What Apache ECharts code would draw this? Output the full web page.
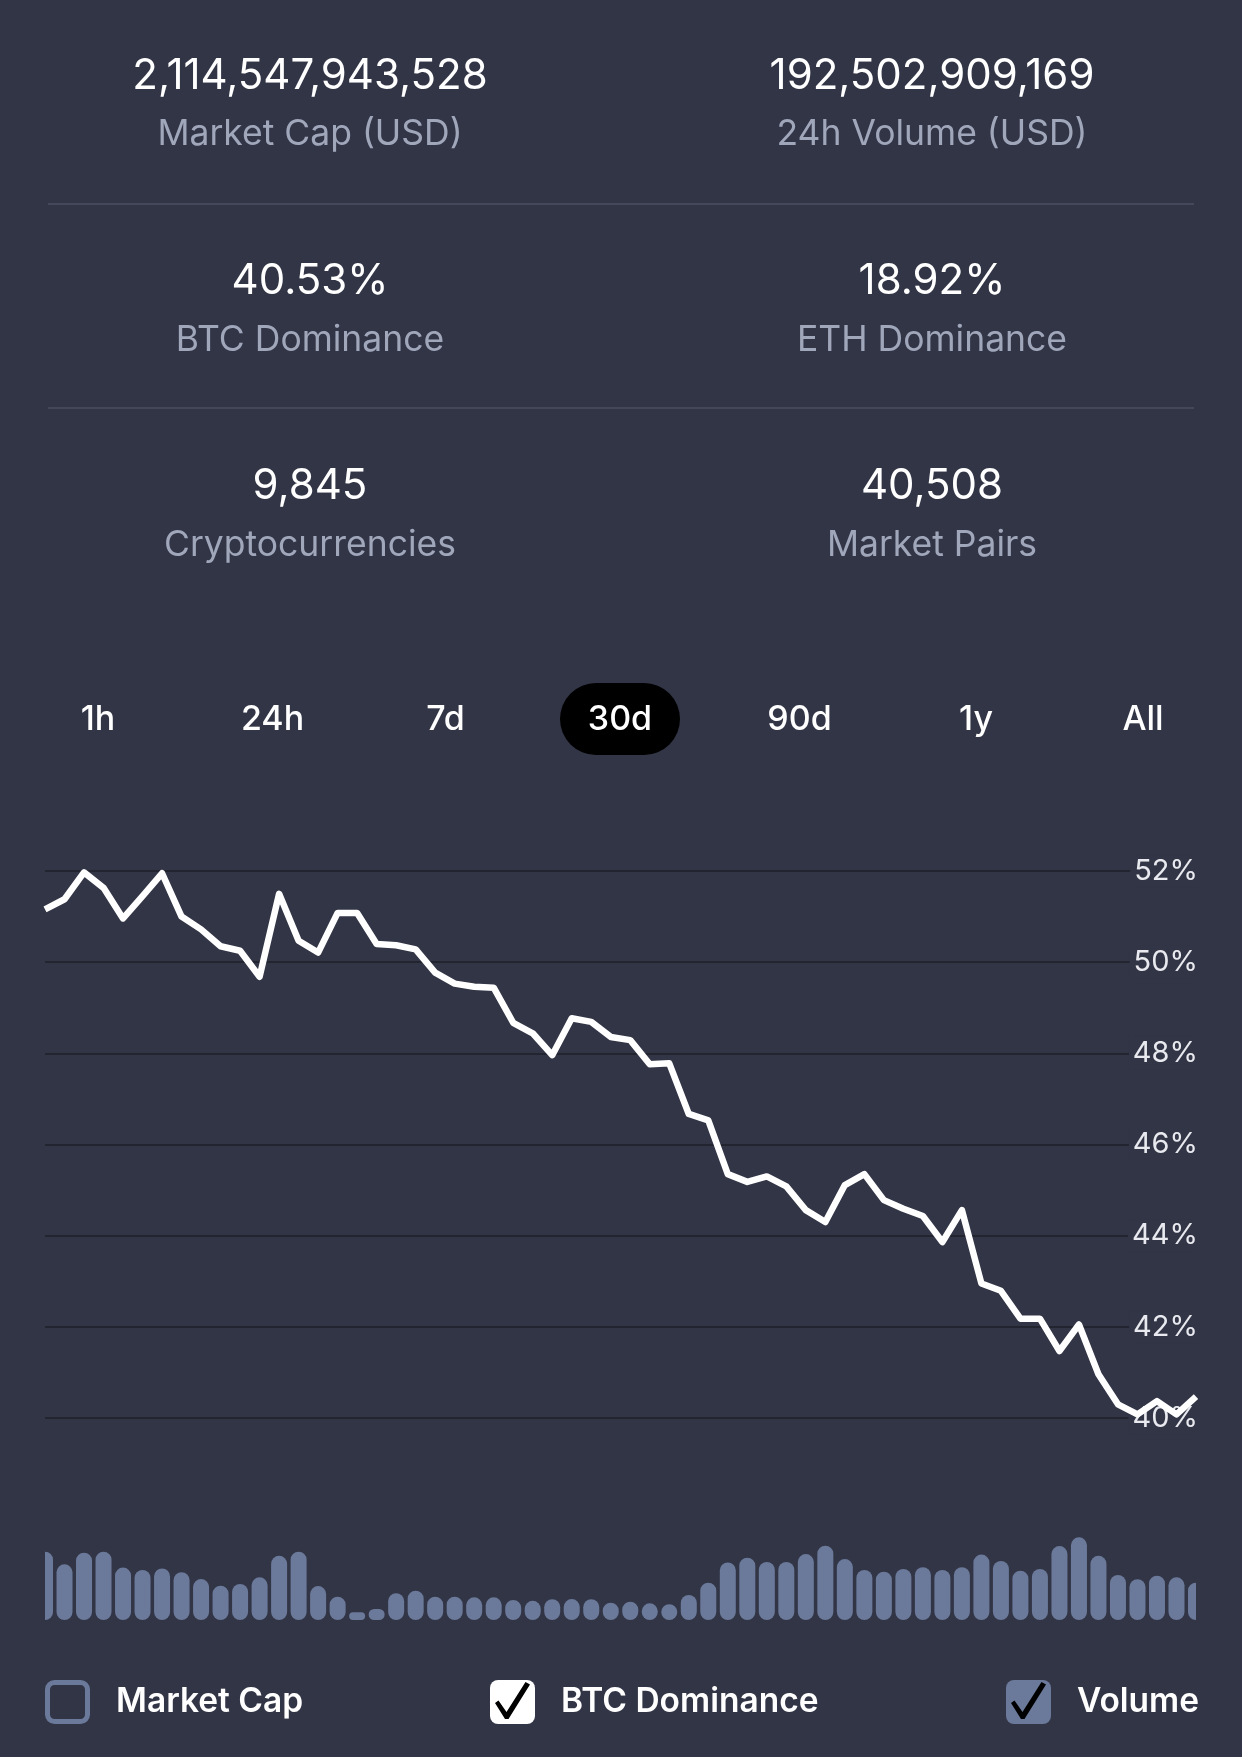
<!DOCTYPE html>
<html>
<head>
<meta charset="utf-8">
<script src="https://cdn.jsdelivr.net/npm/echarts@6/dist/echarts.min.js"></script>
<style>
  html, body { margin: 0; padding: 0; background: #323546; }
  #chart { width: 1242px; height: 1757px; }
</style>
</head>
<body>
<div id="chart"></div>
<script>
// ---- Data ----
const statValues = ['2,114,547,943,528', '192,502,909,169', '40.53%', '18.92%', '9,845', '40,508'];
const statLabels = ['Market Cap (USD)', '24h Volume (USD)', 'BTC Dominance', 'ETH Dominance', 'Cryptocurrencies', 'Market Pairs'];
const rangeTabs = ['1h', '24h', '7d', '30d', '90d', '1y', 'All'];
const activeTab = '30d';
const yTicks = [40, 42, 44, 46, 48, 50, 52];

// 60 half-day samples over 30 days
const categories = [];
(function () {
  const start = Date.UTC(2021, 3, 12, 0, 0);
  for (let i = 0; i < 60; i++) {
    const d = new Date(start + i * 12 * 3600 * 1000);
    categories.push(d.toISOString().slice(5, 13).replace('T', ' ') + 'h');
  }
})();

const btcDominance = [
  51.16, 51.38, 51.97, 51.63, 50.96, 51.45, 51.95, 51.00, 50.72, 50.35,
  50.25, 49.68, 51.50, 50.47, 50.21, 51.08, 51.08, 50.40, 50.37, 50.28,
  49.77, 49.53, 49.46, 49.44, 48.67, 48.44, 47.96, 48.77, 48.69, 48.36,
  48.29, 47.76, 47.78, 46.67, 46.53, 45.35, 45.18, 45.30, 45.08, 44.56,
  44.30, 45.11, 45.35, 44.78, 44.59, 44.43, 43.86, 44.56, 42.95, 42.79,
  42.18, 42.18, 41.47, 42.05, 40.96, 40.30, 40.08, 40.37, 40.08, 40.47
];

// volume, billions USD (estimated)
const volume = [
  352, 287, 347, 352, 270, 258, 266, 246, 211, 177,
  186, 220, 331, 352, 175, 120, 40, 57, 138, 151,
  120, 120, 117, 117, 103, 99, 107, 108, 107, 89,
  94, 86, 81, 129, 192, 297, 321, 299, 299, 340,
  383, 314, 258, 249, 263, 272, 258, 272, 337, 304,
  254, 263, 381, 426, 331, 232, 210, 228, 220, 192
];
const marketCap = []; // not selected in the reference

// ---- Styles ----
const BG = '#323546';
const GRAY = '#a1a7bb';
const BAR = '#6b7a9a';
const FONT = 'Inter';

function svgIcon(svg) {
  return 'image://data:image/svg+xml;charset=utf-8,' + encodeURIComponent(svg);
}
const checkPath = "<path d='M5 23 L8.5 20.5 L16.5 32 L35.5 2 L40 4.5 L18.5 39 L15 39 Z' fill='#000000'/>";
const iconUnchecked = svgIcon("<svg xmlns='http://www.w3.org/2000/svg' width='66' height='44' viewBox='0 0 66 44'><rect x='2.5' y='2.5' width='40' height='39' rx='7' fill='none' stroke='" + BAR + "' stroke-width='5'/></svg>");
const iconCheckedWhite = svgIcon("<svg xmlns='http://www.w3.org/2000/svg' width='66' height='44' viewBox='0 0 66 44'><rect x='0' y='0' width='45' height='44' rx='8' fill='#ffffff'/>" + checkPath + "</svg>");
const iconCheckedBlue = svgIcon("<svg xmlns='http://www.w3.org/2000/svg' width='66' height='44' viewBox='0 0 66 44'><rect x='0' y='0' width='45' height='44' rx='8' fill='" + BAR + "'/>" + checkPath + "</svg>");

// ---- Graphic layer (stat header + range tabs) ----
const colX = [310, 932];
const rowY = [76.5, 281.5, 486.5];
const labelY = [134.5, 340.5, 545.5];
const tabX = [98, 272.5, 445.5, 620, 799.5, 976, 1143];
const graphics = [];
statValues.forEach(function (v, i) {
  const c = i % 2, r = Math.floor(i / 2);
  graphics.push({
    type: 'text', silent: true,
    style: { x: colX[c], y: rowY[r], text: v, fill: '#ffffff', fontSize: 42, fontFamily: FONT, fontWeight: 400, textAlign: 'center', textVerticalAlign: 'middle' }
  });
  graphics.push({
    type: 'text', silent: true,
    style: { x: colX[c], y: labelY[r], text: statLabels[i], fill: GRAY, fontSize: 35.5, fontFamily: FONT, fontWeight: 400, textAlign: 'center', textVerticalAlign: 'middle' }
  });
});
[204, 408].forEach(function (y) {
  graphics.push({ type: 'line', silent: true, shape: { x1: 48, y1: y, x2: 1194, y2: y }, style: { stroke: '#45485a', lineWidth: 2 } });
});
rangeTabs.forEach(function (t, k) {
  const cx = tabX[k];
  if (t === activeTab) {
    graphics.push({ type: 'rect', silent: true, shape: { x: cx - 60, y: 683, width: 120, height: 72, r: 36 }, style: { fill: '#000000' } });
  }
  graphics.push({
    type: 'text', silent: true,
    style: { x: cx, y: 720, text: t, fill: '#ffffff', fontSize: 34, fontFamily: FONT, fontWeight: 500, textAlign: 'center', textVerticalAlign: 'middle' }
  });
});
// plot-area edge masks for the volume strip (bars at the first/last tick are cut at the plot edge)
graphics.push({ type: 'rect', silent: true, z: 100, shape: { x: 0, y: 1510, width: 45, height: 115 }, style: { fill: BG } });
graphics.push({ type: 'rect', silent: true, z: 100, shape: { x: 1196, y: 1510, width: 46, height: 115 }, style: { fill: BG } });

function legendOf(name, icon, left) {
  return {
    left: left, top: 1680, padding: 0, orient: 'horizontal',
    itemWidth: 66, itemHeight: 44, selectedMode: false,
    textStyle: { color: '#ffffff', fontSize: 33.5, fontWeight: 600, fontFamily: FONT },
    data: [{ name: name, icon: icon }]
  };
}

const chart = echarts.init(document.getElementById('chart'), null, { renderer: 'canvas' });
chart.setOption({
  backgroundColor: BG,
  animation: false,
  textStyle: { fontFamily: FONT },
  graphic: graphics,
  legend: [
    legendOf('Market Cap', iconUnchecked, 45),
    legendOf('BTC Dominance', iconCheckedWhite, 490),
    legendOf('Volume', iconCheckedBlue, 1006)
  ],
  grid: [
    { left: 45, right: 46, top: 871, height: 547 },
    { left: 45, right: 46, top: 1523, height: 97 }
  ],
  xAxis: [
    { type: 'category', gridIndex: 0, data: categories, boundaryGap: false, show: false },
    { type: 'category', gridIndex: 1, data: categories, boundaryGap: false, show: false }
  ],
  yAxis: [
    {
      type: 'value', gridIndex: 0, position: 'left', min: 40, max: 52, interval: 2, z: 0,
      axisLine: { show: false }, axisTick: { show: false }, axisLabel: { show: false },
      splitLine: { show: true, lineStyle: { color: '#222430', width: 2 } }
    },
    {
      type: 'value', gridIndex: 0, position: 'right', min: 40, max: 52, interval: 2, z: 1,
      axisLine: { show: false }, axisTick: { show: false }, splitLine: { show: false },
      axisLabel: {
        inside: true, margin: -2, color: '#e9eaef', fontSize: 29, fontFamily: FONT,
        backgroundColor: BG, padding: [2, 0, 2, 4],
        formatter: function (v) { return yTicks.indexOf(v) >= 0 ? v + '%' : ''; }
      }
    },
    { type: 'value', gridIndex: 1, min: 0, max: 500, show: false, splitLine: { show: false } }
  ],
  series: [
    { name: 'Market Cap', type: 'line', xAxisIndex: 0, yAxisIndex: 0, data: marketCap, showSymbol: false, itemStyle: { color: BAR } },
    {
      name: 'BTC Dominance', type: 'line', xAxisIndex: 0, yAxisIndex: 0, data: btcDominance,
      showSymbol: false, symbol: 'none', clip: true, z: 3,
      itemStyle: { color: '#ffffff' },
      lineStyle: { color: '#ffffff', width: 6.5, join: 'round' }
    },
    {
      name: 'Volume', type: 'bar', xAxisIndex: 1, yAxisIndex: 2, data: volume,
      barWidth: 16, clip: true,
      itemStyle: { color: BAR, borderRadius: 8 }
    }
  ]
});
</script>
</body>
</html>
